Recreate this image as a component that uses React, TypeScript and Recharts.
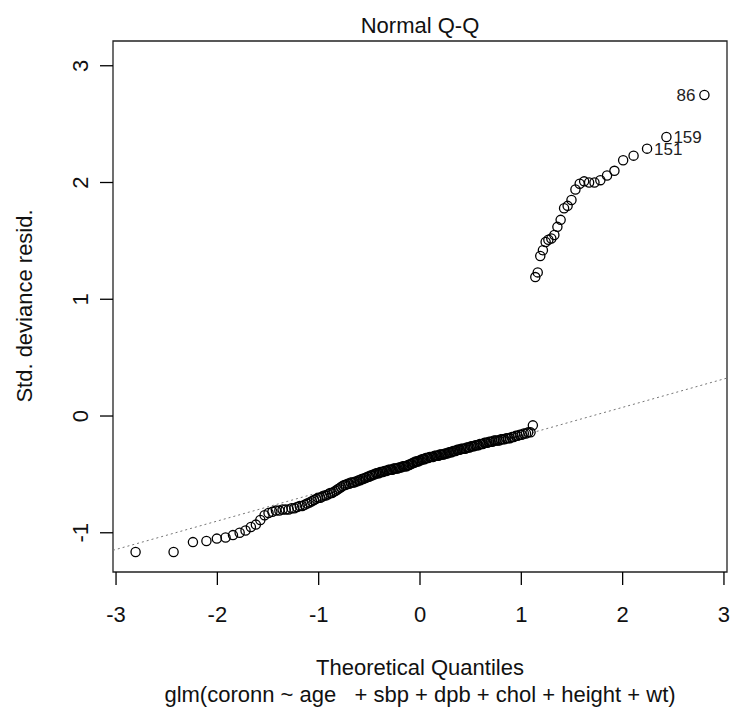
import { ScatterChart, Scatter, XAxis, YAxis, ReferenceLine, ReferenceArea } from 'recharts';

// theoretical quantile, std. deviance residual
const lowTail: [number, number][] = [
  [-2.807, -1.165], [-2.432, -1.165], [-2.241, -1.08], [-2.108, -1.07], [-2.005, -1.05],
  [-1.919, -1.04], [-1.846, -1.02], [-1.78, -1.0], [-1.722, -0.98], [-1.669, -0.95],
  [-1.62, -0.93], [-1.576, -0.89], [-1.534, -0.85], [-1.495, -0.83], [-1.457, -0.82],
  [-1.422, -0.81],
];

const coreLeft: [number, number][] = [
  [-1.388, -0.81], [-1.356, -0.8], [-1.326, -0.8], [-1.296, -0.8], [-1.267, -0.79],
  [-1.24, -0.79], [-1.213, -0.78], [-1.187, -0.77], [-1.162, -0.77], [-1.138, -0.76],
  [-1.114, -0.75], [-1.091, -0.74], [-1.068, -0.73], [-1.046, -0.72], [-1.025, -0.71],
  [-1.004, -0.7], [-0.984, -0.7], [-0.964, -0.69], [-0.944, -0.68], [-0.925, -0.68],
  [-0.906, -0.67], [-0.887, -0.66], [-0.869, -0.66], [-0.851, -0.65], [-0.833, -0.64],
  [-0.815, -0.63], [-0.798, -0.62], [-0.781, -0.61], [-0.764, -0.6], [-0.747, -0.59],
  [-0.731, -0.59], [-0.714, -0.58], [-0.698, -0.58], [-0.682, -0.57], [-0.666, -0.57],
  [-0.651, -0.57], [-0.636, -0.56], [-0.62, -0.56], [-0.605, -0.55], [-0.59, -0.55],
  [-0.576, -0.54], [-0.561, -0.54], [-0.546, -0.53], [-0.532, -0.53], [-0.518, -0.52],
  [-0.503, -0.52], [-0.489, -0.51], [-0.475, -0.51], [-0.461, -0.5], [-0.447, -0.5],
  [-0.433, -0.49], [-0.42, -0.49], [-0.406, -0.49], [-0.393, -0.48], [-0.379, -0.48],
  [-0.366, -0.48], [-0.352, -0.47], [-0.339, -0.47], [-0.326, -0.47], [-0.312, -0.46],
  [-0.299, -0.46], [-0.286, -0.46], [-0.273, -0.46], [-0.26, -0.45], [-0.247, -0.45],
  [-0.234, -0.45], [-0.221, -0.45], [-0.208, -0.44], [-0.195, -0.44], [-0.183, -0.44],
  [-0.17, -0.43], [-0.157, -0.43], [-0.144, -0.43], [-0.132, -0.43], [-0.119, -0.42],
  [-0.106, -0.42], [-0.094, -0.41], [-0.081, -0.41], [-0.069, -0.4], [-0.056, -0.4],
  [-0.044, -0.39], [-0.031, -0.39], [-0.019, -0.39], [-0.006, -0.38],
];

const coreRight: [number, number][] = [
  [0.006, -0.38], [0.019, -0.37], [0.031, -0.37], [0.044, -0.37], [0.056, -0.36],
  [0.069, -0.36], [0.081, -0.36], [0.094, -0.35], [0.106, -0.35], [0.119, -0.35],
  [0.132, -0.35], [0.144, -0.34], [0.157, -0.34], [0.17, -0.34], [0.183, -0.34],
  [0.195, -0.33], [0.208, -0.33], [0.221, -0.33], [0.234, -0.33], [0.247, -0.32],
  [0.26, -0.32], [0.273, -0.32], [0.286, -0.31], [0.299, -0.31], [0.312, -0.31],
  [0.326, -0.3], [0.339, -0.3], [0.352, -0.3], [0.366, -0.29], [0.379, -0.29],
  [0.393, -0.29], [0.406, -0.28], [0.42, -0.28], [0.433, -0.28], [0.447, -0.28],
  [0.461, -0.27], [0.475, -0.27], [0.489, -0.27], [0.503, -0.26], [0.518, -0.26],
  [0.532, -0.26], [0.546, -0.25], [0.561, -0.25], [0.576, -0.25], [0.59, -0.24],
  [0.605, -0.24], [0.62, -0.24], [0.636, -0.23], [0.651, -0.23], [0.666, -0.23],
  [0.682, -0.22], [0.698, -0.22], [0.714, -0.22], [0.731, -0.21], [0.747, -0.21],
  [0.764, -0.21], [0.781, -0.21], [0.798, -0.2], [0.815, -0.2], [0.833, -0.2],
  [0.851, -0.19], [0.869, -0.19], [0.887, -0.19], [0.906, -0.18], [0.925, -0.18],
  [0.944, -0.17], [0.964, -0.17], [0.984, -0.16], [1.004, -0.16], [1.025, -0.15],
  [1.046, -0.15], [1.068, -0.14], [1.091, -0.14], [1.114, -0.08],
];

const highTail: [number, number][] = [
  [1.138, 1.19], [1.162, 1.23], [1.187, 1.37], [1.213, 1.42], [1.24, 1.49],
  [1.267, 1.51], [1.296, 1.52], [1.326, 1.55], [1.356, 1.62], [1.388, 1.68],
  [1.422, 1.78], [1.457, 1.8], [1.495, 1.85], [1.534, 1.94], [1.576, 1.99],
  [1.62, 2.01], [1.669, 2.0], [1.722, 2.0], [1.78, 2.02], [1.846, 2.06],
  [1.919, 2.1], [2.005, 2.19], [2.108, 2.23], [2.241, 2.29], [2.432, 2.39],
  [2.807, 2.75],
];

// observations flagged by plot.lm
const flagged = [
  { q: 2.807, id: '86', side: 'left' },
  { q: 2.432, id: '159', side: 'right' },
  { q: 2.241, id: '151', side: 'right' },
];

const xTicks = [-3, -2, -1, 0, 1, 2, 3];
const yTicks = [-1, 0, 1, 2, 3];
const xDomain = [-3.03, 3.03];
const yDomain = [-1.336, 3.212];
const qqLine = [
  { x: -3.03, y: -1.15 },
  { x: 3.03, y: 0.325 },
];

const FONT = '"Liberation Sans", Arial, sans-serif';
const INK = '#111';

const points = [...lowTail, ...coreLeft, ...coreRight, ...highTail].map(([q, r]) => {
  const f = flagged.find((d) => d.q === q);
  return { q, r, id: f ? f.id : null, side: f ? f.side : null };
});

function Point(props: any) {
  const { cx, cy, payload } = props;
  return (
    <g>
      <circle cx={cx} cy={cy} r={4.6} fill="none" stroke="#000" strokeWidth={1.3} />
      {payload.id && (
        <text
          x={payload.side === 'left' ? cx - 9 : cx + 7}
          y={cy + 6}
          textAnchor={payload.side === 'left' ? 'end' : 'start'}
          fontSize={17}
          fontFamily={FONT}
          fill="#222"
        >
          {payload.id}
        </text>
      )}
    </g>
  );
}

function XTick({ x, y, payload }: any) {
  return (
    <text x={x} y={y + 35} textAnchor="middle" fontSize={22} fontFamily={FONT} fill={INK}>
      {payload.value}
    </text>
  );
}

function YTick({ x, y, payload }: any) {
  const tx = x - 10;
  return (
    <text
      x={tx}
      y={y}
      transform={`rotate(-90, ${tx}, ${y})`}
      textAnchor="middle"
      fontSize={22}
      fontFamily={FONT}
      fill={INK}
    >
      {payload.value}
    </text>
  );
}

export default function App() {
  return (
    <div style={{ position: 'absolute', left: 0, top: 0, background: '#fff' }}>
      <ScatterChart width={732} height={715} margin={{ top: 41, right: 5, bottom: 0, left: 0 }}>
        <XAxis
          type="number"
          dataKey="q"
          domain={xDomain}
          ticks={xTicks}
          interval={0}
          allowDataOverflow
          height={143}
          tickSize={13}
          axisLine={false}
          tickLine={{ stroke: '#000', strokeWidth: 1.3 }}
          tick={<XTick />}
        />
        <YAxis
          type="number"
          dataKey="r"
          domain={yDomain}
          ticks={yTicks}
          interval={0}
          allowDataOverflow
          width={113}
          tickSize={13}
          axisLine={false}
          tickLine={{ stroke: '#000', strokeWidth: 1.3 }}
          tick={<YTick />}
        />
        <ReferenceArea
          x1={xDomain[0]}
          x2={xDomain[1]}
          y1={yDomain[0]}
          y2={yDomain[1]}
          fill="none"
          fillOpacity={0}
          stroke="#222"
          strokeWidth={1.3}
        />
        <Scatter data={points} shape={<Point />} isAnimationActive={false} />
        <ReferenceLine segment={qqLine} stroke="#777" strokeWidth={1} strokeDasharray="2 3" />
        <text x={420} y={33} textAnchor="middle" fontSize={22} fontFamily={FONT} fill={INK}>
          Normal Q-Q
        </text>
        <text x={420} y={675} textAnchor="middle" fontSize={22} fontFamily={FONT} fill={INK}>
          Theoretical Quantiles
        </text>
        <text x={420} y={702} textAnchor="middle" fontSize={22} fontFamily={FONT} fill={INK} xmlSpace="preserve">
          glm(coronn ~ age   + sbp + dpb + chol + height + wt)
        </text>
        <text
          x={32}
          y={306}
          transform="rotate(-90, 32, 306)"
          textAnchor="middle"
          fontSize={22}
          fontFamily={FONT}
          fill={INK}
        >
          Std. deviance resid.
        </text>
      </ScatterChart>
    </div>
  );
}
